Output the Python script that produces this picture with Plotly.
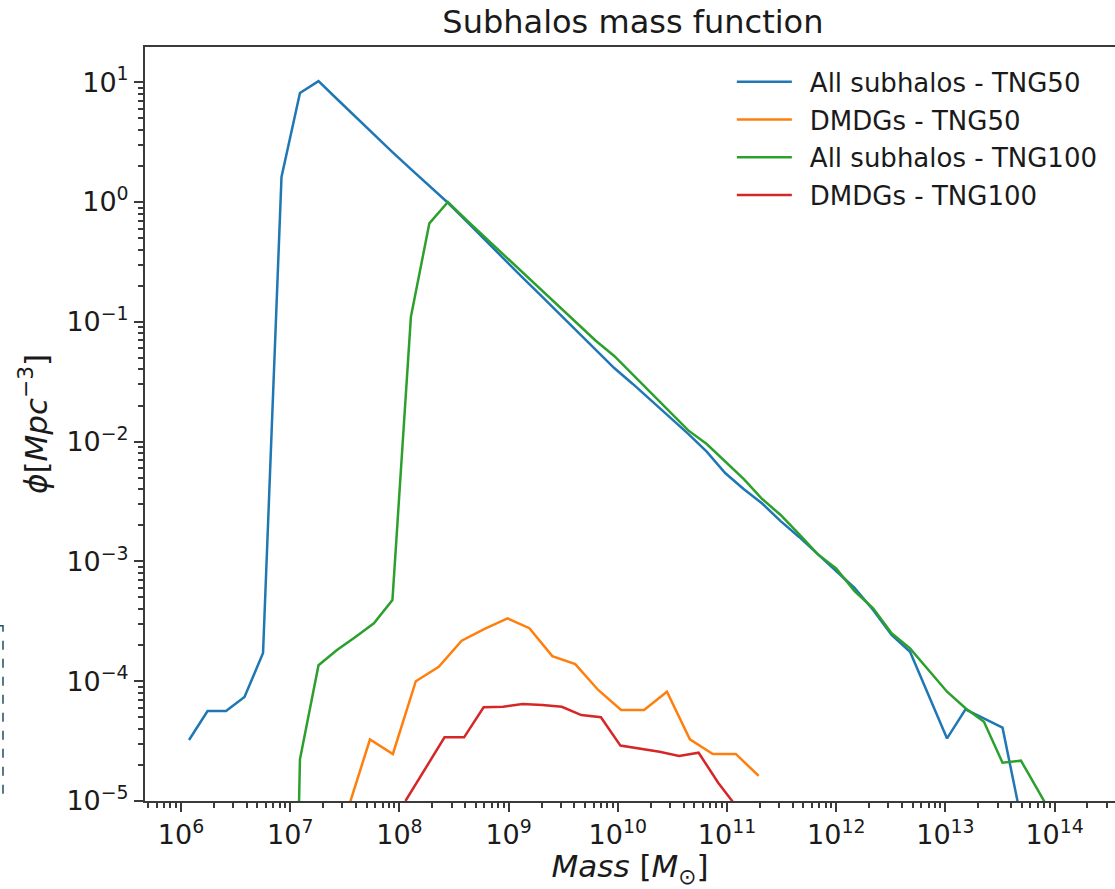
import plotly.graph_objects as go

# ---------------- data ----------------
# bin centres (log10 of mass) for the "All subhalos" curves
log_mass_all = [6.073, 6.243, 6.412, 6.581, 6.751, 6.920, 7.089, 7.259, 7.428, 7.597,
                7.766, 7.936, 8.105, 8.274, 8.444, 8.613, 8.782, 8.952, 9.121, 9.290,
                9.459, 9.629, 9.798, 9.967, 10.137, 10.306, 10.475, 10.645, 10.814, 10.983,
                11.152, 11.322, 11.491, 11.660, 11.830, 11.999, 12.168, 12.338, 12.507, 12.676,
                12.845, 13.015, 13.184, 13.353, 13.523, 13.692, 13.861, 14.031]

all_tng50 = [3.23e-5, 5.64e-5, 5.64e-5, 7.38e-5, 1.72e-4, 1.62, 8.12, 10.2, 7.24, 5.13,
             3.62, 2.61, 1.88, 1.36, 0.986, 0.693, 0.482, 0.341, 0.237, 0.168,
             0.118, 0.0822, 0.0582, 0.0411, 0.0303, 0.0222, 0.0160, 0.0116, 8.24e-3, 5.47e-3,
             4.02e-3, 3.04e-3, 2.17e-3, 1.60e-3, 1.15e-3, 8.17e-4, 6.00e-4, 3.93e-4, 2.43e-4, 1.76e-4,
             7.67e-5, 3.33e-5, 5.82e-5, 4.89e-5, 4.09e-5, 7.2e-6]

# first bins of TNG100 are empty (drawn clipped at the bottom of the log axis)
all_tng100 = [None, None, None, None, None, 1e-12, 2.23e-5, 1.36e-4, 1.82e-4, 2.34e-4,
              3.04e-4, 4.76e-4, 0.110, 0.664, 1.0, 0.708, 0.508, 0.366, 0.262, 0.188,
              0.135, 0.0970, 0.0695, 0.0519, 0.0363, 0.0255, 0.0176, 0.0124, 9.55e-3, 6.89e-3,
              4.88e-3, 3.32e-3, 2.44e-3, 1.69e-3, 1.15e-3, 8.73e-4, 5.66e-4, 4.06e-4, 2.51e-4, 1.88e-4,
              1.24e-4, 8.17e-5, 5.94e-5, 4.59e-5, 2.09e-5, 2.17e-5, 1.17e-5, 6.2e-6]

log_mass_dmdg50 = [7.52, 7.73, 7.94, 8.15, 8.36, 8.57, 8.78, 8.99, 9.19, 9.40,
                   9.61, 9.82, 10.03, 10.24, 10.45, 10.66, 10.87, 11.08, 11.29]
dmdg_tng50 = [8.1e-6, 3.26e-5, 2.47e-5, 1.0e-4, 1.32e-4, 2.18e-4, 2.73e-4, 3.35e-4, 2.77e-4, 1.62e-4,
              1.39e-4, 8.45e-5, 5.75e-5, 5.75e-5, 8.17e-5, 3.27e-5, 2.47e-5, 2.47e-5, 1.62e-5]

log_mass_dmdg100 = [8.055, 8.234, 8.413, 8.592, 8.771, 8.950, 9.129, 9.308, 9.487, 9.666,
                    9.845, 10.024, 10.203, 10.382, 10.561, 10.740, 10.919, 11.098]
dmdg_tng100 = [1.0e-5, 1.82e-5, 3.40e-5, 3.40e-5, 6.05e-5, 6.12e-5, 6.45e-5, 6.33e-5, 6.12e-5, 5.22e-5,
               5.0e-5, 2.9e-5, 2.75e-5, 2.58e-5, 2.38e-5, 2.53e-5, 1.42e-5, 8.7e-6]

series_names = ["All subhalos - TNG50", "DMDGs - TNG50", "All subhalos - TNG100", "DMDGs - TNG100"]
colors = ["#1f77b4", "#ff7f0e", "#2ca02c", "#d62728"]

decade_exponents = [6, 7, 8, 9, 10, 11, 12, 13, 14]
y_decade_exponents = [-5, -4, -3, -2, -1, 0, 1]

# ---------------- figure ----------------
def to_mass(logs):
    return [10 ** v for v in logs]

xs = [to_mass(log_mass_all), to_mass(log_mass_dmdg50), to_mass(log_mass_all), to_mass(log_mass_dmdg100)]
ys = [all_tng50, dmdg_tng50, all_tng100, dmdg_tng100]

fig = go.Figure()
for i, (name, c) in enumerate(zip(series_names, colors)):
    x = xs[i][:len(ys[i])]
    fig.add_trace(go.Scatter(x=x, y=ys[i], mode="lines", name="\u2002" + name,
                             line=dict(color=c, width=2.5), legendgroup=f"g{i}",
                             connectgaps=False))

font_family = "DejaVu Sans"
x_major = [10 ** e for e in decade_exponents]
x_text = [f"10<sup>{e}</sup>" for e in decade_exponents]
x_minor = [m * 10 ** e for e in range(5, 15) for m in range(2, 10)]
y_major = [10 ** e for e in y_decade_exponents]
y_text = [f"10<sup>{'−' + str(-e) if e < 0 else e}</sup>" for e in y_decade_exponents]
y_minor = [m * 10.0 ** e for e in range(-6, 2) for m in range(2, 10)]

axis_common = dict(type="log", showgrid=False, zeroline=False, showline=True,
                   linecolor="#3a3a3a", linewidth=2, ticks="outside", ticklen=9,
                   tickwidth=2, tickcolor="#3a3a3a",
                   tickfont=dict(family=font_family, size=27, color="#1a1a1a"))

fig.update_xaxes(**axis_common, range=[5.670, 14.553], mirror=True,
                 tickmode="array", tickvals=x_major, ticktext=x_text,
                 minor=dict(tickmode="array", tickvals=x_minor, ticks="outside",
                            ticklen=5, tickwidth=1.5, tickcolor="#3a3a3a"),
                 title=dict(text="<i>Mass</i> [<i>M</i><sub>⊙</sub>]",
                            font=dict(family=font_family, size=31, color="#1a1a1a"),
                            standoff=17))
fig.update_yaxes(**axis_common, range=[-5, 1.294],
                 tickmode="array", tickvals=y_major, ticktext=y_text,
                 minor=dict(tickmode="array", tickvals=y_minor, ticks="outside",
                            ticklen=5, tickwidth=1.5, tickcolor="#3a3a3a"),
                 title=dict(text="<i>ϕ</i>[<i>Mpc</i><sup>−3</sup>]",
                            font=dict(family=font_family, size=31, color="#1a1a1a"),
                            standoff=10))

fig.update_layout(
    width=1115, height=889,
    margin=dict(l=145, r=0, t=47, b=88),
    paper_bgcolor="white", plot_bgcolor="white",
    title=dict(text="Subhalos mass function", x=0.503, xref="paper", xanchor="center",
               y=0.975, yref="container", yanchor="middle",
               font=dict(family=font_family, size=32, color="#1a1a1a")),
    legend=dict(x=0.605, y=0.985, xanchor="left", yanchor="top",
                bgcolor="rgba(255,255,255,0)", borderwidth=0,
                font=dict(family=font_family, size=26, color="#1a1a1a"),
                itemwidth=55, tracegroupgap=1),
    showlegend=True,
    shapes=[dict(type="path", xref="paper", yref="paper",
                 path="M -0.1495 0.2325 L -0.1464 0.2325 L -0.1464 0.0080 L -0.1495 0.0080",
                 line=dict(color="#1f4e5f", width=1.5, dash="dash"))],
)

# remove the default 8 px page margin so the figure fills the window exactly
fig.write_html("out.html", config={"displayModeBar": False},
               post_script="document.body.style.margin='0';document.body.style.overflow='hidden';")
